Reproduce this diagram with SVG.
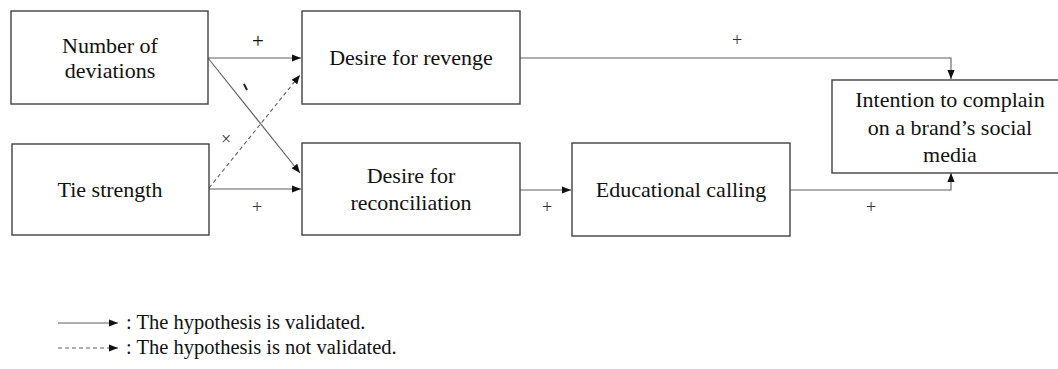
<svg xmlns="http://www.w3.org/2000/svg" width="1058" height="369" viewBox="0 0 1058 369">
<defs>
<style>
.box{fill:#fff;stroke:#404040;stroke-width:1.4}
text{font-family:'Liberation Serif','Times New Roman','DejaVu Serif',serif}
.t{font-size:22px;fill:#111;text-anchor:middle}
.lbl{font-size:18px;fill:#333;text-anchor:middle}
.lg{font-size:20.5px;fill:#111}
.c{fill:none;stroke:#606060;stroke-width:1.1}
.d{stroke-dasharray:4,3}
</style>
<marker id="a" viewBox="0 0 10 10" refX="10" refY="5" markerWidth="9" markerHeight="9" markerUnits="userSpaceOnUse" orient="auto">
<path d="M0,1 L10,5 L0,9 z" fill="#111"/>
</marker>
</defs>
<rect width="1058" height="369" fill="#fff"/>
<g id="connectors">
<line class="c" x1="208" y1="58" x2="301" y2="58" marker-end="url(#a)"/>
<line class="c" x1="208" y1="58" x2="300" y2="173" marker-end="url(#a)"/>
<line class="c d" x1="209" y1="188" x2="300" y2="75" marker-end="url(#a)"/>
<line class="c" x1="209" y1="189" x2="301" y2="189" marker-end="url(#a)"/>
<polyline class="c" points="520,58 951,58 951,79" marker-end="url(#a)"/>
<line class="c" x1="520" y1="190" x2="571" y2="190" marker-end="url(#a)"/>
<polyline class="c" points="790,190 951,190 951,173" marker-end="url(#a)"/>
<text class="lbl" x="258" y="48" style="font-size:21px;fill:#111">+</text>
<line x1="244" y1="84" x2="247" y2="90" stroke="#222" stroke-width="2"/>
<text class="lbl" x="226" y="145">×</text>
<text class="lbl" x="257" y="213">+</text>
<text class="lbl" x="737" y="46">+</text>
<text class="lbl" x="547" y="213">+</text>
<text class="lbl" x="871" y="213">+</text>
</g>
<g id="n1"><rect class="box" x="11" y="11" width="197" height="93"/>
<text class="t" x="110" y="53">Number of</text><text class="t" x="110" y="78">deviations</text></g>
<g id="n2"><rect class="box" x="12" y="144" width="197" height="91"/>
<text class="t" x="110" y="197">Tie strength</text></g>
<g id="n3"><rect class="box" x="302" y="11" width="218" height="93"/>
<text class="t" x="411" y="65">Desire for revenge</text></g>
<g id="n4"><rect class="box" x="302" y="143" width="218" height="92"/>
<text class="t" x="411" y="183">Desire for</text><text class="t" x="411" y="210">reconciliation</text></g>
<g id="n5"><rect class="box" x="572" y="143" width="218" height="93"/>
<text class="t" x="681" y="197">Educational calling</text></g>
<g id="n6"><rect class="box" x="832" y="80" width="236" height="93"/>
<text class="t" x="950" y="107">Intention to complain</text><text class="t" x="950" y="135">on a brand’s social</text><text class="t" x="950" y="162">media</text></g>
<g id="legend">
<line class="c" x1="58" y1="323" x2="118" y2="323" marker-end="url(#a)"/>
<line class="c d" x1="58" y1="348" x2="118" y2="348" marker-end="url(#a)"/>
<text class="lg" x="126" y="329">: The hypothesis is validated.</text>
<text class="lg" x="126" y="354">: The hypothesis is not validated.</text>
</g>
</svg>
